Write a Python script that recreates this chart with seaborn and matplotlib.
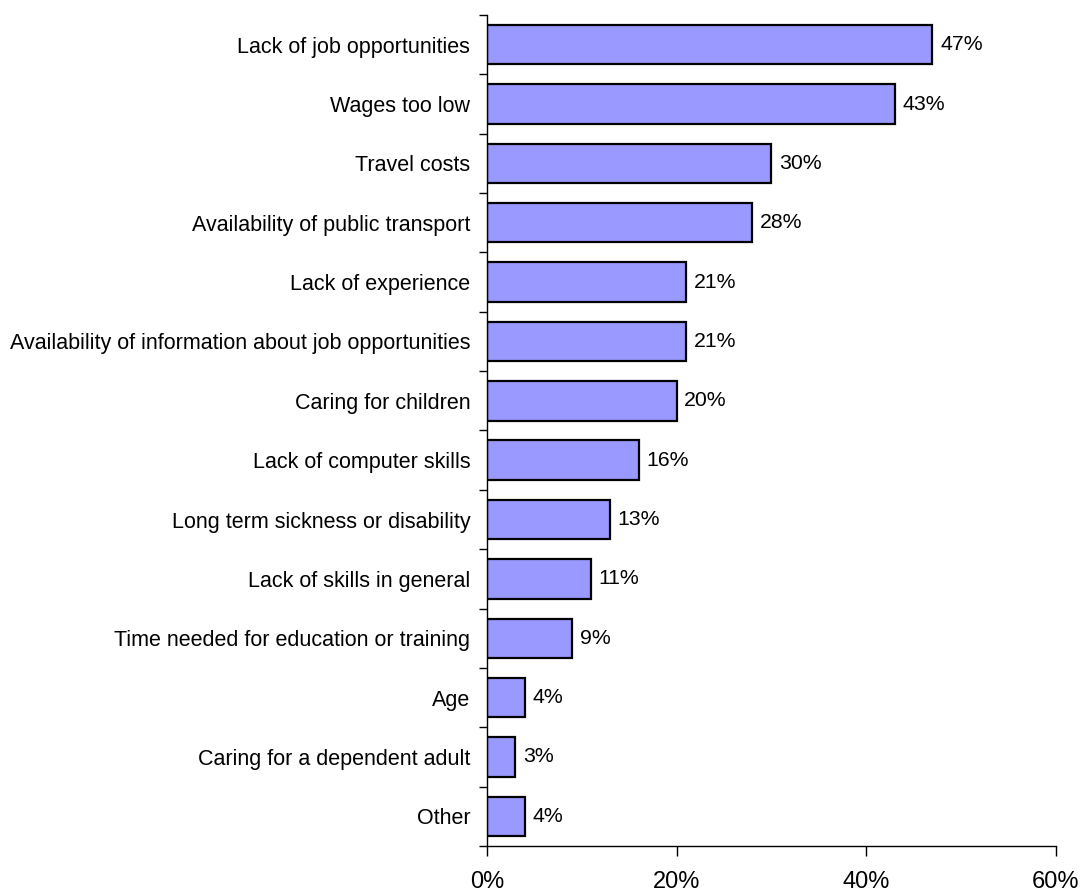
import matplotlib
matplotlib.use("Agg")
import matplotlib.pyplot as plt
import seaborn as sns
import pandas as pd
from matplotlib.ticker import FixedLocator

categories = [
    "Lack of job opportunities",
    "Wages too low",
    "Travel costs",
    "Availability of public transport",
    "Lack of experience",
    "Availability of information about job opportunities",
    "Caring for children",
    "Lack of computer skills",
    "Long term sickness or disability",
    "Lack of skills in general",
    "Time needed for education or training",
    "Age",
    "Caring for a dependent adult",
    "Other",
]
percentages = [47, 43, 30, 28, 21, 21, 20, 16, 13, 11, 9, 4, 3, 4]
x_ticks = [0, 20, 40, 60]
x_tick_labels = ["0%", "20%", "40%", "60%"]

sns.set_style("white")
plt.rcParams["font.family"] = ["Liberation Sans", "DejaVu Sans"]
plt.rcParams["text.color"] = "black"
plt.rcParams["xtick.color"] = "black"
plt.rcParams["ytick.color"] = "black"

df = pd.DataFrame({"reason": categories, "pct": percentages})

fig = plt.figure(figsize=(10.8, 8.91), dpi=100)
ax = fig.add_axes([0.4509, 0.0505, 0.5266, 0.9327])

sns.barplot(data=df, x="pct", y="reason", orient="h", color="#9999FF",
            edgecolor="black", linewidth=1.6, width=0.665, saturation=1,
            ax=ax)

for patch, v in zip(ax.patches, percentages):
    y = patch.get_y() + patch.get_height() / 2
    ax.text(v + 0.8, y, f"{v}%", va="center", ha="left", fontsize=15.3,
            color="black")

ax.set_xlim(0, 60)
ax.set_ylim(len(categories) - 0.5, -0.5)
ax.set_xticks(x_ticks)
ax.set_xticklabels(x_tick_labels, fontsize=17)
ax.set_xlabel("")
ax.set_ylabel("")

# category labels centred on bars, tick marks on the boundaries between them
ax.yaxis.set_major_locator(FixedLocator(range(len(categories))))
ax.set_yticklabels(categories, fontsize=15.5)
ax.yaxis.set_minor_locator(FixedLocator([i - 0.5 for i in range(len(categories) + 1)]))
ax.tick_params(axis="y", which="major", length=0, pad=12)
ax.tick_params(axis="y", which="minor", length=6, width=1, color="black",
               direction="out", left=True)
ax.tick_params(axis="x", which="major", length=7, width=1, color="black",
               direction="out", bottom=True, pad=11)

for side in ["top", "right"]:
    ax.spines[side].set_visible(False)
for side in ["left", "bottom"]:
    ax.spines[side].set_color("black")
    ax.spines[side].set_linewidth(1.0)

fig.savefig("out.png", dpi=100)
